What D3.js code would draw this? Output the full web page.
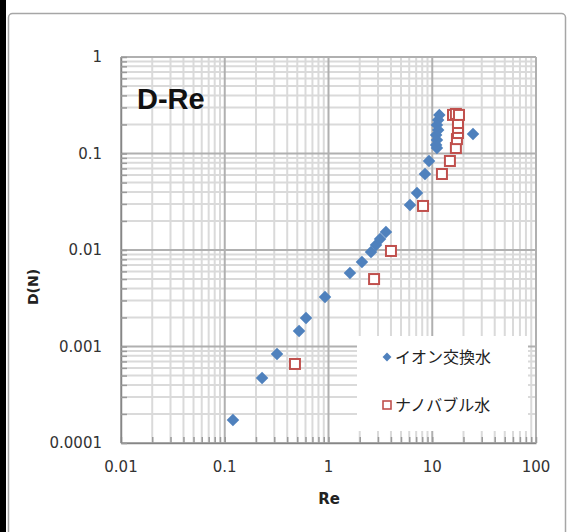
<!DOCTYPE html>
<html>
<head>
<meta charset="utf-8">
<script src="https://cdn.jsdelivr.net/npm/d3@7"></script>
<style>
  html, body { margin: 0; padding: 0; background: #ffffff; }
  svg { display: block; }
</style>
</head>
<body>
<svg id="chart" width="570" height="532"></svg>
<script>
// Drag coefficient D versus Reynolds number, log–log
const ionRe = [0.120, 0.229, 0.319, 0.520, 0.607, 0.925, 1.61, 2.10, 2.57, 2.87, 3.14, 3.58,
               6.10, 7.13, 8.51, 9.31, 11.1, 10.9, 11.1, 10.9, 11.4, 11.1, 11.4, 11.7, 24.7];
const ionD  = [0.000173, 0.000472, 0.000836, 0.00145, 0.00197, 0.00326, 0.00578, 0.00751, 0.00953, 0.01127, 0.0130, 0.0154,
               0.0293, 0.0390, 0.0613, 0.0836, 0.114, 0.1225, 0.138, 0.1555, 0.175, 0.197, 0.222, 0.251, 0.159];

const nanoRe = [0.475, 2.75, 4.00, 8.15, 12.4, 14.8, 16.9, 17.3, 17.7, 17.7, 17.7, 15.85, 16.9, 18.1];
const nanoD  = [0.000659, 0.0050, 0.00977, 0.0286, 0.0613, 0.0836, 0.114, 0.141, 0.163, 0.184, 0.207, 0.251, 0.257, 0.251];

const xTicks = [0.01, 0.1, 1, 10, 100];
const yTicks = [0.0001, 0.001, 0.01, 0.1, 1];
const seriesNames = ["イオン交換水", "ナノバブル水"];
const chartTitle = "D-Re";
const xTitle = "Re";
const yTitle = "D(N)";

const svg = d3.select("#chart");
const blue = "#4f81bd", red = "#c0504d";
const labelFont = "DejaVu Sans, sans-serif";

// outer chart frame
svg.append("rect").attr("x", 0).attr("y", 0).attr("width", 6).attr("height", 532).attr("fill", "#000");
svg.append("rect").attr("x", 8.5).attr("y", 13.5).attr("width", 557).attr("height", 530)
  .attr("rx", 4).attr("fill", "#fff").attr("stroke", "#a6a6a6").attr("stroke-width", 1.5);

const plot = { left: 121, right: 536, top: 57, bottom: 443 };
const x = d3.scaleLog().domain([0.01, 100]).range([plot.left, plot.right]);
const y = d3.scaleLog().domain([0.0001, 1]).range([plot.bottom, plot.top]);

// minor / major grid values for each decade
function gridValues(lo, hi) {
  const minor = [], major = [];
  for (let e = Math.round(Math.log10(lo)); e < Math.round(Math.log10(hi)); e++) {
    const b = Math.pow(10, e);
    major.push(b);
    for (let k = 2; k <= 9; k++) minor.push(k * b);
  }
  major.push(hi);
  return { minor, major };
}
const gx = gridValues(0.01, 100), gy = gridValues(0.0001, 1);

const grid = svg.append("g");
grid.selectAll(".vmin").data(gx.minor).join("line")
  .attr("x1", d => x(d)).attr("x2", d => x(d)).attr("y1", plot.top).attr("y2", plot.bottom)
  .attr("stroke", "#dadada").attr("stroke-width", 2);
grid.selectAll(".hmin").data(gy.minor).join("line")
  .attr("y1", d => y(d)).attr("y2", d => y(d)).attr("x1", plot.left).attr("x2", plot.right)
  .attr("stroke", "#dadada").attr("stroke-width", 2);
grid.selectAll(".vmaj").data(gx.major).join("line")
  .attr("x1", d => x(d)).attr("x2", d => x(d)).attr("y1", plot.top).attr("y2", plot.bottom)
  .attr("stroke", "#b0b0b0").attr("stroke-width", 2);
grid.selectAll(".hmaj").data(gy.major).join("line")
  .attr("y1", d => y(d)).attr("y2", d => y(d)).attr("x1", plot.left).attr("x2", plot.right)
  .attr("stroke", "#b0b0b0").attr("stroke-width", 2);

// legend box sits over the grid
const legend = { left: 357, top: 336, right: 528, bottom: 431 };
svg.append("rect").attr("x", legend.left).attr("y", legend.top)
  .attr("width", legend.right - legend.left).attr("height", legend.bottom - legend.top)
  .attr("fill", "#fff");

// axes with inward minor ticks
const xAxis = d3.axisBottom(x).tickValues(gx.minor.concat(gx.major)).tickSizeInner(-6).tickSizeOuter(0).tickFormat("");
const yAxis = d3.axisLeft(y).tickValues(gy.minor.concat(gy.major)).tickSizeInner(-6).tickSizeOuter(0).tickFormat("");
const gxA = svg.append("g").attr("transform", `translate(0,${plot.bottom})`).call(xAxis);
const gyA = svg.append("g").attr("transform", `translate(${plot.left},0)`).call(yAxis);
[gxA, gyA].forEach(g => {
  g.select(".domain").attr("stroke", "#868686").attr("stroke-width", 1.5);
  g.selectAll(".tick line").attr("stroke", "#9a9a9a").attr("stroke-width", 1.5);
});

// tick labels
svg.append("g").selectAll("text").data(xTicks).join("text")
  .attr("x", d => x(d)).attr("y", 472).attr("text-anchor", "middle")
  .attr("font-family", labelFont).attr("font-size", 15).attr("fill", "#333")
  .text(d => d3.format("~g")(d));
svg.append("g").selectAll("text").data(yTicks).join("text")
  .attr("x", 102).attr("y", d => y(d) + 5).attr("text-anchor", "end")
  .attr("font-family", labelFont).attr("font-size", 15).attr("fill", "#333")
  .text(d => d === 0.0001 ? "0.0001" : d3.format("~g")(d));

// axis titles and chart title
svg.append("text").attr("x", 329).attr("y", 504).attr("text-anchor", "middle")
  .attr("font-family", labelFont).attr("font-weight", "bold").attr("font-size", 15).attr("fill", "#222")
  .text(xTitle);
svg.append("text").attr("transform", "translate(38,287) rotate(-90)").attr("text-anchor", "middle")
  .attr("font-family", labelFont).attr("font-weight", "bold").attr("font-size", 14).attr("fill", "#222")
  .text(yTitle);
svg.append("text").attr("x", 137).attr("y", 109)
  .attr("font-family", "Liberation Sans, Arial, sans-serif").attr("font-weight", "bold").attr("font-size", 29).attr("fill", "#111")
  .text(chartTitle);

// series
const diamond = d3.symbol().type(d3.symbolDiamond2).size(100);
const ionPts = ionRe.map((r, i) => [r, ionD[i]]);
const nanoPts = nanoRe.map((r, i) => [r, nanoD[i]]);

svg.append("g").selectAll("path").data(nanoPts).join("rect")
  .attr("x", d => x(d[0]) - 5).attr("y", d => y(d[1]) - 5).attr("width", 10).attr("height", 10)
  .attr("fill", "#fff").attr("stroke", red).attr("stroke-width", 2);
svg.append("g").selectAll("path").data(ionPts).join("path")
  .attr("transform", d => `translate(${x(d[0])},${y(d[1])})`)
  .attr("d", diamond).attr("fill", blue);

// legend entries
const lg = svg.append("g");
lg.append("path").attr("transform", "translate(387,357)").attr("d", d3.symbol().type(d3.symbolDiamond2).size(50)).attr("fill", blue);
lg.append("rect").attr("x", 383).attr("y", 401).attr("width", 8).attr("height", 8)
  .attr("fill", "#fff").attr("stroke", red).attr("stroke-width", 1.6);
lg.selectAll("text").data(seriesNames).join("text")
  .attr("x", 395).attr("y", (d, i) => 363 + i * 48)
  .attr("font-family", "Noto Sans CJK JP, sans-serif").attr("font-size", 16).attr("fill", "#222")
  .text(d => d);
</script>
</body>
</html>
